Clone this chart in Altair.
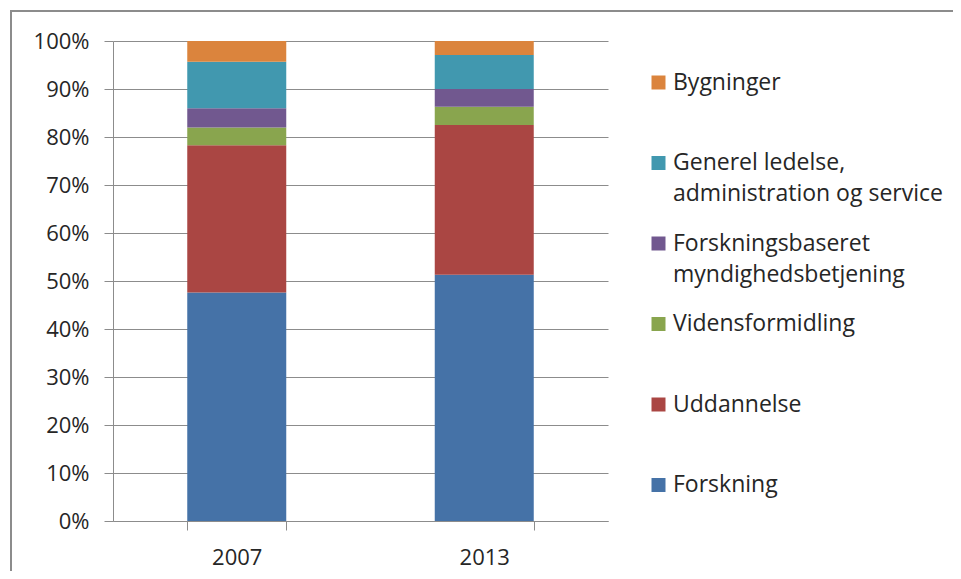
import altair as alt
import pandas as pd

years = ["2007", "2013"]
categories = [
    "Forskning",
    "Uddannelse",
    "Vidensformidling",
    "Forskningsbaseret\nmyndighedsbetjening",
    "Generel ledelse,\nadministration og service",
    "Bygninger",
]
colors = ["#4572A7", "#AA4643", "#89A54E", "#71588F", "#4198AF", "#DB843D"]
values_2007 = [47.6, 30.7, 3.7, 4.0, 9.7, 4.3]
values_2013 = [51.3, 31.2, 3.8, 3.7, 7.1, 2.9]
y_ticks = [0, 0.1, 0.2, 0.3, 0.4, 0.5, 0.6, 0.7, 0.8, 0.9, 1.0]

rows = []
for year, vals in zip(years, [values_2007, values_2013]):
    for i, (cat, v) in enumerate(zip(categories, vals)):
        rows.append({"year": year, "category": cat, "value": v, "idx": i})
df = pd.DataFrame(rows)

legend_domain = list(reversed(categories))
legend_range = list(reversed(colors))

GRID = "#8c8c8c"
TEXT = "#262626"
FONT = "Open Sans"

bars = alt.Chart(df).mark_bar().encode(
    x=alt.X(
        "year:N",
        title=None,
        scale=alt.Scale(paddingInner=0.6, paddingOuter=0.3),
        axis=alt.Axis(
            labelAngle=0,
            tickBand="extent",
            tickSize=9,
            labelPadding=17,
            grid=False,
            domainColor=GRID,
            tickColor=GRID,
        ),
    ),
    y=alt.Y(
        "value:Q",
        stack="normalize",
        title=None,
        scale=alt.Scale(domain=[0, 1]),
        axis=alt.Axis(
            format=".0%",
            values=y_ticks,
            tickSize=9,
            labelPadding=15,
            grid=True,
            gridColor=GRID,
            domainColor=GRID,
            tickColor=GRID,
        ),
    ),
    color=alt.Color(
        "category:N",
        title=None,
        scale=alt.Scale(domain=legend_domain, range=legend_range),
        legend=alt.Legend(
            orient="none",
            legendX=534,
            legendY=30,
            direction="vertical",
            columns=1,
            symbolType="square",
            symbolSize=196,
            symbolStrokeWidth=0,
            symbolOpacity=1,
            labelFont=FONT,
            labelFontSize=23,
            labelColor=TEXT,
            labelLimit=400,
            labelOffset=3,
            labelBaseline="middle",
            labelExpr="split(datum.label, '\\n')",
            rowPadding=25.5,
            gridAlign="all",
            padding=0,
        ),
    ),
    order=alt.Order("idx:Q", sort="ascending"),
)

frame = alt.Chart(pd.DataFrame({"a": [0]})).mark_rect(
    fillOpacity=0, stroke="#8c8c8c", strokeWidth=2
).encode(
    x=alt.value(-102),
    x2=alt.value(1000),
    y=alt.value(-30),
    y2=alt.value(800),
)

chart = (
    alt.layer(frame, bars)
    .properties(
        width=495,
        height=480,
        autosize=alt.AutoSizeParams(type="none"),
        padding={"left": 105, "top": 33, "right": 345, "bottom": 50},
    )
    .configure(style={"guide-label": {"lineHeight": 31}})
    .configure_view(strokeWidth=0)
    .configure_axis(
        labelFont=FONT,
        labelFontSize=22,
        labelColor=TEXT,
    )
)

chart.save("out.html", embed_options={"renderer": "svg", "actions": False})
